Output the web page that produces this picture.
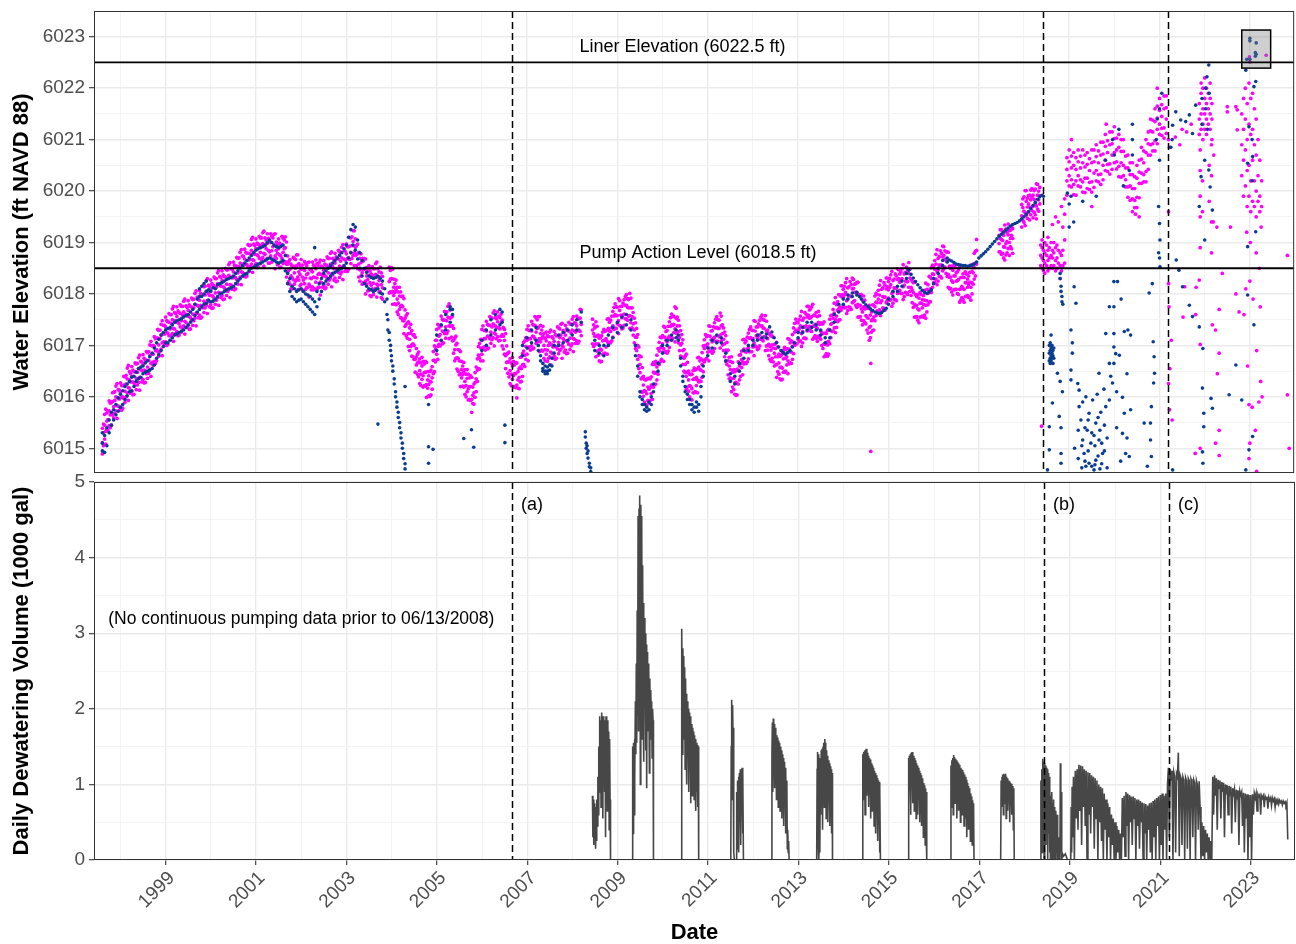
<!DOCTYPE html>
<html><head><meta charset="utf-8">
<script src="https://cdn.jsdelivr.net/npm/chart.js@4.4.1/dist/chart.umd.min.js"></script>
<style>
html,body{margin:0;padding:0;background:#fff;}
#wrap{position:relative;width:1296px;height:944px;overflow:hidden;}
canvas{position:absolute;left:0;}
</style></head><body>
<div id="wrap">
<canvas id="topChart" width="1296" height="476" style="top:0px"></canvas>
<canvas id="bottomChart" width="1296" height="478" style="top:466px"></canvas>
</div>
<script>
// ---------- axis definitions ----------
const yearTicks = [1998,1999,2000,2001,2002,2003,2004,2005,2006,2007,2008,2009,2010,2011,2012,2013,2014,2015,2016,2017,2018,2019,2020,2021,2022,2023];
const elevTicks = [6015,6015.5,6016,6016.5,6017,6017.5,6018,6018.5,6019,6019.5,6020,6020.5,6021,6021.5,6022,6022.5,6023];
const volumeTicks = [0,0.5,1,1.5,2,2.5,3,3.5,4,4.5,5];
const dateRange = [1997.415, 2023.98];
const elevRange = [6014.52, 6023.5];
const volumeRange = [0, 5];

// ---------- reference lines and notes ----------
const levelLines = [6022.5, 6018.5];
const levelNotes = [
  {text: 'Liner Elevation (6022.5 ft)', x: 2008.16, y: 6022.8},
  {text: 'Pump Action Level (6018.5 ft)', x: 2008.16, y: 6018.79}
];
const phaseDates = [2006.66, 2018.42, 2021.19];
const phaseLabels = ['(a)', '(b)', '(c)'];
const phaseLabelLevel = 4.7;
const noDataNote = {text: '(No continuous pumping data prior to 06/13/2008)', x: 2002.0, y: 3.19};
const highlightBoxX = [2022.82, 2023.46];
const highlightBoxY = [6022.39, 6023.13];

// ---------- water elevation, magenta series: [date, readings...] ----------
const magenta1997to2003 = [
[1997.60,6015.39,6015.11,6014.89],[1997.65,6015.45,6015.66,6015.18],[1997.70,6015.37,6015.69,6015.53],[1997.75,6015.92,6015.44,6015.73],
[1997.80,6015.45,6015.89,6015.67],[1997.85,6016.09,6015.81,6015.59],[1997.90,6016.00,6016.21,6015.73],[1997.95,6015.82,6016.14,6015.98],
[1998.00,6016.27,6015.79,6016.08],[1998.05,6015.78,6016.22,6016.00],[1998.10,6016.39,6016.11,6015.89],[1998.15,6016.35,6016.56,6016.08],
[1998.20,6016.17,6016.49,6016.33],[1998.25,6016.59,6016.11,6016.40],[1998.30,6016.05,6016.49,6016.27],[1998.35,6016.64,6016.36,6016.14],
[1998.40,6016.55,6016.76,6016.28],[1998.45,6016.37,6016.69,6016.53],[1998.50,6016.82,6016.34,6016.63],[1998.55,6016.28,6016.72,6016.50],
[1998.60,6016.86,6016.58,6016.36],[1998.65,6016.80,6017.01,6016.53],[1998.70,6016.67,6016.99,6016.83],[1998.75,6017.17,6016.69,6016.98],
[1998.80,6016.70,6017.14,6016.92],[1998.85,6017.29,6017.01,6016.79],[1998.90,6017.20,6017.41,6016.93],[1998.95,6017.07,6017.39,6017.23],
[1999.00,6017.55,6017.07,6017.36],[1999.05,6017.02,6017.46,6017.24],[1999.10,6017.60,6017.32,6017.10],[1999.15,6017.50,6017.71,6017.23],
[1999.20,6017.32,6017.64,6017.48],[1999.25,6017.75,6017.27,6017.56],[1999.30,6017.20,6017.64,6017.42],[1999.35,6017.76,6017.48,6017.26],
[1999.40,6017.65,6017.86,6017.38],[1999.45,6017.45,6017.77,6017.61],[1999.50,6017.87,6017.39,6017.68],[1999.55,6017.32,6017.76,6017.54],
[1999.60,6017.89,6017.61,6017.39],[1999.65,6017.80,6018.01,6017.53],[1999.70,6017.62,6017.94,6017.78],[1999.75,6018.07,6017.59,6017.88],
[1999.80,6017.55,6017.99,6017.77],[1999.85,6018.14,6017.86,6017.64],[1999.90,6018.05,6018.26,6017.78],[1999.95,6017.85,6018.17,6018.01],
[2000.00,6018.27,6017.79,6018.08],[2000.05,6017.73,6018.17,6017.95],[2000.10,6018.30,6018.02,6017.80],[2000.15,6018.20,6018.41,6017.93],
[2000.20,6018.02,6018.34,6018.18],[2000.25,6018.45,6017.97,6018.26],[2000.30,6017.90,6018.34,6018.12],[2000.35,6018.47,6018.19,6017.97],
[2000.40,6018.36,6018.57,6018.09],[2000.45,6018.17,6018.49,6018.33],[2000.50,6018.62,6018.14,6018.43],[2000.55,6018.10,6018.54,6018.32],
[2000.60,6018.69,6018.41,6018.19],[2000.65,6018.60,6018.81,6018.33],[2000.70,6018.42,6018.74,6018.58],[2000.75,6018.87,6018.39,6018.68],
[2000.80,6018.35,6018.79,6018.57],[2000.85,6018.94,6018.66,6018.44],[2000.90,6018.85,6019.06,6018.58],[2000.95,6018.65,6018.97,6018.81],
[2001.00,6019.07,6018.59,6018.88],[2001.05,6018.52,6018.96,6018.74],[2001.10,6019.09,6018.81,6018.59],[2001.15,6018.98,6019.19,6018.71],
[2001.20,6018.77,6019.09,6018.93],[2001.25,6019.17,6018.69,6018.98],[2001.30,6018.60,6019.04,6018.82],[2001.35,6019.12,6018.84,6018.62],
[2001.40,6018.95,6019.16,6018.68],[2001.45,6018.69,6019.01,6018.85],[2001.50,6019.07,6018.59,6018.88],[2001.55,6018.52,6018.96,6018.74],
[2001.60,6019.09,6018.81,6018.59],[2001.65,6018.90,6019.11,6018.63],[2001.70,6018.42,6018.74,6018.58],[2001.75,6018.67,6018.19,6018.48],
[2001.80,6018.10,6018.54,6018.32],[2001.85,6018.69,6018.41,6018.19],[2001.90,6018.55,6018.76,6018.28],[2001.95,6018.27,6018.59,6018.43],
[2002.00,6018.67,6018.19,6018.48],[2002.05,6018.05,6018.49,6018.27],[2002.10,6018.59,6018.31,6018.09],[2002.15,6018.40,6018.61,6018.13],
[2002.20,6018.15,6018.47,6018.31],[2002.25,6018.62,6018.14,6018.43],[2002.30,6018.10,6018.54,6018.32],[2002.35,6018.59,6018.31,6018.09],
[2002.40,6018.40,6018.61,6018.13],[2002.45,6018.22,6018.54,6018.38],[2002.50,6018.65,6018.17,6018.46],[2002.55,6018.12,6018.56,6018.34],
[2002.60,6018.69,6018.41,6018.19],[2002.65,6018.58,6018.79,6018.31],[2002.70,6018.37,6018.69,6018.53],[2002.75,6018.79,6018.31,6018.60],
[2002.80,6018.25,6018.69,6018.47],[2002.85,6018.82,6018.54,6018.32],[2002.90,6018.70,6018.91,6018.43],[2002.95,6018.52,6018.84,6018.68],
[2003.00,6018.97,6018.49,6018.78],[2003.05,6018.48,6018.92,6018.70],[2003.10,6019.09,6018.81,6018.59],[2003.15,6019.02,6019.23,6018.75],
[2003.20,6018.75,6019.07,6018.91],[2003.25,6018.97,6018.49,6018.78],[2003.30,6018.25,6018.69,6018.47],[2003.35,6018.69,6018.41,6018.19],
[2003.40,6018.48,6018.69,6018.21],[2003.45,6018.19,6018.51,6018.35],[2003.50,6018.55,6018.07,6018.36],[2003.55,6017.95,6018.39,6018.17],
[2003.60,6018.49,6018.21,6017.99],[2003.65,6018.38,6018.59,6018.11],[2003.70,6018.17,6018.49,6018.33],[2003.75,6018.52,6018.04,6018.33],
[2003.80,6017.90,6018.34,6018.12]
];
const magentaMid1997to2003 = [
[1997.625,6015.05,6015.30,6015.47],[1997.675,6015.76,6015.33,6015.08],[1997.725,6015.56,6015.73,6015.34],[1997.775,6015.88,6015.40,6015.65],
[1997.825,6015.65,6016.08,6015.91],[1997.875,6015.68,6015.93,6016.10],[1997.925,6016.26,6015.83,6015.58],[1997.975,6015.96,6016.13,6015.74],
[1998.025,6016.22,6015.74,6015.99],[1998.075,6015.97,6016.40,6016.23],[1998.125,6016.00,6016.25,6016.42],[1998.175,6016.61,6016.18,6015.93],
[1998.225,6016.29,6016.46,6016.07],[1998.275,6016.52,6016.04,6016.29],[1998.325,6016.23,6016.66,6016.49],[1998.375,6016.23,6016.48,6016.65],
[1998.425,6016.81,6016.38,6016.13],[1998.475,6016.51,6016.68,6016.29],[1998.525,6016.75,6016.27,6016.52],[1998.575,6016.45,6016.88,6016.71],
[1998.625,6016.46,6016.71,6016.88],[1998.675,6017.08,6016.65,6016.40],[1998.725,6016.83,6017.00,6016.61],[1998.775,6017.13,6016.65,6016.90],
[1998.825,6016.88,6017.31,6017.14],[1998.875,6016.88,6017.13,6017.30],[1998.925,6017.48,6017.05,6016.80],[1998.975,6017.22,6017.39,6017.00],
[1999.025,6017.48,6017.00,6017.25],[1999.075,6017.19,6017.62,6017.45],[1999.125,6017.18,6017.43,6017.60],[1999.175,6017.76,6017.33,6017.08],
[1999.225,6017.45,6017.62,6017.23],[1999.275,6017.67,6017.19,6017.44],[1999.325,6017.36,6017.79,6017.62],[1999.375,6017.34,6017.59,6017.76],
[1999.425,6017.90,6017.47,6017.22],[1999.475,6017.57,6017.74,6017.35],[1999.525,6017.79,6017.31,6017.56],[1999.575,6017.49,6017.92,6017.75],
[1999.625,6017.48,6017.73,6017.90],[1999.675,6018.06,6017.63,6017.38],[1999.725,6017.76,6017.93,6017.54],[1999.775,6018.01,6017.53,6017.78],
[1999.825,6017.73,6018.16,6017.99],[1999.875,6017.73,6017.98,6018.15],[1999.925,6018.30,6017.87,6017.62],[1999.975,6017.97,6018.14,6017.75],
[2000.025,6018.20,6017.72,6017.97],[2000.075,6017.90,6018.33,6018.16],[2000.125,6017.88,6018.13,6018.30],[2000.175,6018.46,6018.03,6017.78],
[2000.225,6018.15,6018.32,6017.93],[2000.275,6018.37,6017.89,6018.14],[2000.325,6018.07,6018.50,6018.33],[2000.375,6018.05,6018.30,6018.47],
[2000.425,6018.61,6018.18,6017.93],[2000.475,6018.31,6018.48,6018.09],[2000.525,6018.56,6018.08,6018.33],[2000.575,6018.28,6018.71,6018.54],
[2000.625,6018.28,6018.53,6018.70],[2000.675,6018.86,6018.43,6018.18],[2000.725,6018.56,6018.73,6018.34],[2000.775,6018.81,6018.33,6018.58],
[2000.825,6018.53,6018.96,6018.79],[2000.875,6018.53,6018.78,6018.95],[2000.925,6019.10,6018.67,6018.42],[2000.975,6018.77,6018.94,6018.55],
[2001.025,6018.99,6018.51,6018.76],[2001.075,6018.69,6019.12,6018.95],[2001.125,6018.67,6018.92,6019.09],[2001.175,6019.22,6018.79,6018.54],
[2001.225,6018.88,6019.05,6018.66],[2001.275,6019.08,6018.60,6018.85],[2001.325,6018.74,6019.17,6019.00],[2001.375,6018.67,6018.92,6019.09],
[2001.425,6019.17,6018.74,6018.49],[2001.475,6018.79,6018.96,6018.57],[2001.525,6018.99,6018.51,6018.76],[2001.575,6018.69,6019.12,6018.95],
[2001.625,6018.63,6018.88,6019.05],[2001.675,6019.01,6018.58,6018.33],[2001.725,6018.46,6018.63,6018.24],[2001.775,6018.58,6018.10,6018.35],
[2001.825,6018.28,6018.71,6018.54],[2001.875,6018.25,6018.50,6018.67],[2001.925,6018.76,6018.33,6018.08],[2001.975,6018.38,6018.55,6018.16],
[2002.025,6018.56,6018.08,6018.33],[2002.075,6018.20,6018.63,6018.46],[2002.125,6018.13,6018.38,6018.55],[2002.175,6018.62,6018.19,6017.94],
[2002.225,6018.30,6018.47,6018.08],[2002.275,6018.56,6018.08,6018.33],[2002.325,6018.23,6018.66,6018.49],[2002.375,6018.13,6018.38,6018.55],
[2002.425,6018.66,6018.23,6017.98],[2002.475,6018.35,6018.52,6018.13],[2002.525,6018.58,6018.10,6018.35],[2002.575,6018.29,6018.72,6018.55],
[2002.625,6018.27,6018.52,6018.69],[2002.675,6018.82,6018.39,6018.14],[2002.725,6018.49,6018.66,6018.27],[2002.775,6018.72,6018.24,6018.49],
[2002.825,6018.42,6018.85,6018.68],[2002.875,6018.39,6018.64,6018.81],[2002.925,6018.96,6018.53,6018.28],[2002.975,6018.66,6018.83,6018.44],
[2003.025,6018.92,6018.44,6018.69],[2003.075,6018.67,6019.10,6018.93],[2003.125,6018.69,6018.94,6019.11],[2003.175,6019.23,6018.80,6018.55],
[2003.225,6018.77,6018.94,6018.55],[2003.275,6018.81,6018.33,6018.58],[2003.325,6018.35,6018.78,6018.61],[2003.375,6018.22,6018.47,6018.64],
[2003.425,6018.68,6018.25,6018.00],[2003.475,6018.28,6018.45,6018.06],[2003.525,6018.45,6017.97,6018.22],[2003.575,6018.10,6018.53,6018.36],
[2003.625,6018.07,6018.32,6018.49],[2003.675,6018.62,6018.19,6017.94],[2003.725,6018.26,6018.43,6018.04],[2003.775,6018.41,6017.93,6018.18]
];
const magenta2004to2008 = [
[2003.95,6018.52,6018.24,6018.02],[2004.00,6018.30,6018.51,6018.03],[2004.05,6017.97,6018.29,6018.13],[2004.10,6018.27,6017.79,6018.08],
[2004.15,6017.60,6018.04,6017.82],[2004.20,6018.04,6017.76,6017.54],[2004.25,6017.75,6017.96,6017.48],[2004.30,6017.37,6017.69,6017.53],
[2004.35,6017.62,6017.14,6017.43],[2004.40,6016.90,6017.34,6017.12],[2004.45,6017.29,6017.01,6016.79],[2004.50,6017.00,6017.21,6016.73],
[2004.55,6016.62,6016.94,6016.78],[2004.60,6016.87,6016.39,6016.68],[2004.65,6016.22,6016.66,6016.44],[2004.70,6016.69,6016.41,6016.19],
[2004.75,6016.48,6016.69,6016.21],[2004.80,6016.17,6016.49,6016.33],[2004.85,6016.49,6016.01,6016.30],[2004.90,6016.15,6016.59,6016.37],
[2004.95,6016.99,6016.71,6016.49],[2005.00,6017.10,6017.31,6016.83],[2005.05,6017.02,6017.34,6017.18],[2005.10,6017.57,6017.09,6017.38],
[2005.15,6017.05,6017.49,6017.27],[2005.20,6017.64,6017.36,6017.14],[2005.25,6017.55,6017.76,6017.28],[2005.30,6017.37,6017.69,6017.53],
[2005.35,6017.57,6017.09,6017.38],[2005.40,6016.70,6017.14,6016.92],[2005.45,6017.04,6016.76,6016.54],[2005.50,6016.70,6016.91,6016.43],
[2005.55,6016.37,6016.69,6016.53],[2005.60,6016.67,6016.19,6016.48],[2005.65,6016.00,6016.44,6016.22],[2005.70,6016.44,6016.16,6015.94],
[2005.75,6016.20,6016.41,6015.93],[2005.80,6015.87,6016.19,6016.03],[2005.85,6016.47,6015.99,6016.28],[2005.90,6016.30,6016.74,6016.52],
[2005.95,6017.04,6016.76,6016.54],[2006.00,6017.10,6017.31,6016.83],[2006.05,6016.97,6017.29,6017.13],[2006.10,6017.47,6016.99,6017.28],
[2006.15,6016.95,6017.39,6017.17],[2006.20,6017.54,6017.26,6017.04],[2006.25,6017.42,6017.63,6017.15],[2006.30,6017.22,6017.54,6017.38],
[2006.35,6017.65,6017.17,6017.46],[2006.40,6017.10,6017.54,6017.32],[2006.45,6017.49,6017.21,6016.99],[2006.50,6017.10,6017.31,6016.83],
[2006.55,6016.67,6016.99,6016.83],[2006.60,6016.87,6016.39,6016.68],[2006.65,6016.22,6016.66,6016.44],[2006.70,6016.69,6016.41,6016.19],
[2006.75,6016.45,6016.66,6016.18],[2006.80,6016.17,6016.49,6016.33],[2006.85,6016.77,6016.29,6016.58],[2006.90,6016.40,6016.84,6016.62],
[2006.95,6017.09,6016.81,6016.59],[2007.00,6017.10,6017.31,6016.83],[2007.05,6016.97,6017.29,6017.13],[2007.10,6017.47,6016.99,6017.28],
[2007.15,6016.95,6017.39,6017.17],[2007.20,6017.54,6017.26,6017.04],[2007.25,6017.35,6017.56,6017.08],[2007.30,6017.07,6017.39,6017.23],
[2007.35,6017.37,6016.89,6017.18],[2007.40,6016.70,6017.14,6016.92],[2007.45,6017.19,6016.91,6016.69],[2007.50,6017.05,6017.26,6016.78],
[2007.55,6016.85,6017.17,6017.01],[2007.60,6017.27,6016.79,6017.08],[2007.65,6016.75,6017.19,6016.97],[2007.70,6017.34,6017.06,6016.84],
[2007.75,6017.20,6017.41,6016.93],[2007.80,6016.97,6017.29,6017.13],[2007.85,6017.39,6016.91,6017.20],[2007.90,6016.85,6017.29,6017.07],
[2007.95,6017.42,6017.14,6016.92],[2008.00,6017.30,6017.51,6017.03],[2008.05,6017.12,6017.44,6017.28],[2008.10,6017.57,6017.09,6017.38],
[2008.15,6017.08,6017.52,6017.30],[2008.20,6017.69,6017.41,6017.19]
];
const magentaMid2004to2008 = [
[2003.975,6018.04,6018.29,6018.46],[2004.025,6018.48,6018.05,6017.80],[2004.075,6018.03,6018.20,6017.81],[2004.125,6018.13,6017.65,6017.90],
[2004.175,6017.70,6018.13,6017.96],[2004.225,6017.53,6017.78,6017.95],[2004.275,6017.91,6017.48,6017.23],[2004.325,6017.41,6017.58,6017.19],
[2004.375,6017.46,6016.98,6017.23],[2004.425,6016.98,6017.41,6017.24],[2004.475,6016.78,6017.03,6017.20],[2004.525,6017.16,6016.73,6016.48],
[2004.575,6016.66,6016.83,6016.44],[2004.625,6016.74,6016.26,6016.51],[2004.675,6016.34,6016.77,6016.60],[2004.725,6016.22,6016.47,6016.64],
[2004.775,6016.67,6016.24,6015.99],[2004.825,6016.24,6016.41,6016.02],[2004.875,6016.52,6016.04,6016.29],[2004.925,6016.45,6016.88,6016.71],
[2004.975,6016.68,6016.93,6017.10],[2005.025,6017.41,6016.98,6016.73],[2005.075,6017.21,6017.38,6016.99],[2005.125,6017.51,6017.03,6017.28],
[2005.175,6017.23,6017.66,6017.49],[2005.225,6017.23,6017.48,6017.65],[2005.275,6017.81,6017.38,6017.13],[2005.325,6017.38,6017.55,6017.16],
[2005.375,6017.33,6016.85,6017.10],[2005.425,6016.75,6017.18,6017.01],[2005.475,6016.50,6016.75,6016.92],[2005.525,6016.88,6016.45,6016.20],
[2005.575,6016.43,6016.60,6016.21],[2005.625,6016.53,6016.05,6016.30],[2005.675,6016.10,6016.53,6016.36],[2005.725,6015.95,6016.20,6016.37],
[2005.775,6016.38,6015.95,6015.70],[2005.825,6016.08,6016.25,6015.86],[2005.875,6016.58,6016.10,6016.35],[2005.925,6016.55,6016.98,6016.81],
[2005.975,6016.70,6016.95,6017.12],[2006.025,6017.38,6016.95,6016.70],[2006.075,6017.13,6017.30,6016.91],[2006.125,6017.41,6016.93,6017.18],
[2006.175,6017.13,6017.56,6017.39],[2006.225,6017.11,6017.36,6017.53],[2006.275,6017.67,6017.24,6016.99],[2006.325,6017.35,6017.52,6017.13],
[2006.375,6017.57,6017.09,6017.34],[2006.425,6017.18,6017.61,6017.44],[2006.475,6016.93,6017.18,6017.35],[2006.525,6017.23,6016.80,6016.55],
[2006.575,6016.68,6016.85,6016.46],[2006.625,6016.74,6016.26,6016.51],[2006.675,6016.34,6016.77,6016.60],[2006.725,6016.20,6016.45,6016.62],
[2006.775,6016.66,6016.23,6015.98],[2006.825,6016.38,6016.55,6016.16],[2006.875,6016.78,6016.30,6016.55],[2006.925,6016.63,6017.06,6016.89],
[2006.975,6016.73,6016.98,6017.15],[2007.025,6017.38,6016.95,6016.70],[2007.075,6017.13,6017.30,6016.91],[2007.125,6017.41,6016.93,6017.18],
[2007.175,6017.13,6017.56,6017.39],[2007.225,6017.08,6017.33,6017.50],[2007.275,6017.56,6017.13,6016.88],[2007.325,6017.13,6017.30,6016.91],
[2007.375,6017.23,6016.75,6017.00],[2007.425,6016.83,6017.26,6017.09],[2007.475,6016.75,6017.00,6017.17],[2007.525,6017.30,6016.87,6016.62],
[2007.575,6016.97,6017.14,6016.75],[2007.625,6017.21,6016.73,6016.98],[2007.675,6016.93,6017.36,6017.19],[2007.725,6016.90,6017.15,6017.32],
[2007.775,6017.43,6017.00,6016.75],[2007.825,6017.09,6017.26,6016.87],[2007.875,6017.32,6016.84,6017.09],[2007.925,6017.02,6017.45,6017.28],
[2007.975,6016.99,6017.24,6017.41],[2008.025,6017.56,6017.13,6016.88],[2008.075,6017.26,6017.43,6017.04],[2008.125,6017.52,6017.04,6017.29],
[2008.175,6017.27,6017.70,6017.53]
];
const magenta2008to2013 = [
[2008.45,6017.30,6017.51,6017.03],[2008.50,6017.02,6017.34,6017.18],[2008.55,6017.37,6016.89,6017.18],[2008.60,6016.70,6017.14,6016.92],
[2008.65,6017.19,6016.91,6016.69],[2008.70,6017.10,6017.31,6016.83],[2008.75,6016.97,6017.29,6017.13],[2008.80,6017.52,6017.04,6017.33],
[2008.85,6017.05,6017.49,6017.27],[2008.90,6017.66,6017.38,6017.16],[2008.95,6017.60,6017.81,6017.33],[2009.00,6017.42,6017.74,6017.58],
[2009.05,6017.87,6017.39,6017.68],[2009.10,6017.32,6017.76,6017.54],[2009.15,6017.89,6017.61,6017.39],[2009.20,6017.78,6017.99,6017.51],
[2009.25,6017.57,6017.89,6017.73],[2009.30,6017.92,6017.44,6017.73],[2009.35,6017.20,6017.64,6017.42],[2009.40,6017.44,6017.16,6016.94],
[2009.45,6017.00,6017.21,6016.73],[2009.50,6016.47,6016.79,6016.63],[2009.55,6016.57,6016.09,6016.38],[2009.60,6015.90,6016.34,6016.12],
[2009.65,6016.34,6016.06,6015.84],[2009.70,6016.15,6016.36,6015.88],[2009.75,6016.07,6016.39,6016.23],[2009.80,6016.67,6016.19,6016.48],
[2009.85,6016.25,6016.69,6016.47],[2009.90,6016.94,6016.66,6016.44],[2009.95,6016.95,6017.16,6016.68],[2010.00,6016.87,6017.19,6017.03],
[2010.05,6017.35,6016.87,6017.16],[2010.10,6016.85,6017.29,6017.07],[2010.15,6017.46,6017.18,6016.96],[2010.20,6017.40,6017.61,6017.13],
[2010.25,6017.25,6017.57,6017.41],[2010.30,6017.72,6017.24,6017.53],[2010.35,6017.05,6017.49,6017.27],[2010.40,6017.29,6017.01,6016.79],
[2010.45,6016.90,6017.11,6016.63],[2010.50,6016.47,6016.79,6016.63],[2010.55,6016.67,6016.19,6016.48],[2010.60,6016.00,6016.44,6016.22],
[2010.65,6016.44,6016.16,6015.94],[2010.70,6016.35,6016.56,6016.08],[2010.75,6016.22,6016.54,6016.38],[2010.80,6016.77,6016.29,6016.58],
[2010.85,6016.30,6016.74,6016.52],[2010.90,6016.99,6016.71,6016.49],[2010.95,6017.00,6017.21,6016.73],[2011.00,6016.87,6017.19,6017.03],
[2011.05,6017.37,6016.89,6017.18],[2011.10,6016.85,6017.29,6017.07],[2011.15,6017.44,6017.16,6016.94],[2011.20,6017.35,6017.56,6017.08],
[2011.25,6017.17,6017.49,6017.33],[2011.30,6017.57,6017.09,6017.38],[2011.35,6016.90,6017.34,6017.12],[2011.40,6017.19,6016.91,6016.69],
[2011.45,6016.70,6016.91,6016.43],[2011.50,6016.37,6016.69,6016.53],[2011.55,6016.67,6016.19,6016.48],[2011.60,6016.05,6016.49,6016.27],
[2011.65,6016.54,6016.26,6016.04],[2011.70,6016.60,6016.81,6016.33],[2011.75,6016.57,6016.89,6016.73],[2011.80,6017.12,6016.64,6016.93],
[2011.85,6016.65,6017.09,6016.87],[2011.90,6017.24,6016.96,6016.74],[2011.95,6017.15,6017.36,6016.88],[2012.00,6016.97,6017.29,6017.13],
[2012.05,6017.47,6016.99,6017.28],[2012.10,6016.92,6017.36,6017.14],[2012.15,6017.49,6017.21,6016.99],[2012.20,6017.38,6017.59,6017.11],
[2012.25,6017.17,6017.49,6017.33],[2012.30,6017.47,6016.99,6017.28],[2012.35,6016.80,6017.24,6017.02],[2012.40,6017.19,6016.91,6016.69],
[2012.45,6016.95,6017.16,6016.68],[2012.50,6016.62,6016.94,6016.78],[2012.55,6016.97,6016.49,6016.78],[2012.60,6016.35,6016.79,6016.57],
[2012.65,6016.84,6016.56,6016.34],[2012.70,6016.75,6016.96,6016.48],[2012.75,6016.62,6016.94,6016.78],[2012.80,6017.12,6016.64,6016.93],
[2012.85,6016.65,6017.09,6016.87],[2012.90,6017.34,6017.06,6016.84],[2012.95,6017.30,6017.51,6017.03]
];
const magentaMid2008to2013 = [
[2008.475,6016.98,6017.23,6017.40],[2008.525,6017.46,6017.03,6016.78],[2008.575,6017.03,6017.20,6016.81],[2008.625,6017.16,6016.68,6016.93],
[2008.675,6016.83,6017.26,6017.09],[2008.725,6016.85,6017.10,6017.27],[2008.775,6017.51,6017.08,6016.83],[2008.825,6017.28,6017.45,6017.06],
[2008.875,6017.57,6017.09,6017.34],[2008.925,6017.31,6017.74,6017.57],[2008.975,6017.33,6017.58,6017.75],[2009.025,6017.91,6017.48,6017.23],
[2009.075,6017.59,6017.76,6017.37],[2009.125,6017.82,6017.34,6017.59],[2009.175,6017.52,6017.95,6017.78],[2009.225,6017.49,6017.74,6017.91],
[2009.275,6018.01,6017.58,6017.33],[2009.325,6017.56,6017.73,6017.34],[2009.375,6017.53,6017.05,6017.30],[2009.425,6016.90,6017.33,6017.16],
[2009.475,6016.55,6016.80,6016.97],[2009.525,6016.78,6016.35,6016.10],[2009.575,6016.23,6016.40,6016.01],[2009.625,6016.33,6015.85,6016.10],
[2009.675,6015.93,6016.36,6016.19],[2009.725,6015.93,6016.18,6016.35],[2009.775,6016.63,6016.20,6015.95],[2009.825,6016.46,6016.63,6016.24],
[2009.875,6016.81,6016.33,6016.58],[2009.925,6016.63,6017.06,6016.89],[2009.975,6016.73,6016.98,6017.15],[2010.025,6017.37,6016.94,6016.69],
[2010.075,6017.10,6017.27,6016.88],[2010.125,6017.37,6016.89,6017.14],[2010.175,6017.11,6017.54,6017.37],[2010.225,6017.14,6017.39,6017.56],
[2010.275,6017.75,6017.32,6017.07],[2010.325,6017.38,6017.55,6017.16],[2010.375,6017.38,6016.90,6017.15],[2010.425,6016.78,6017.21,6017.04],
[2010.475,6016.50,6016.75,6016.92],[2010.525,6016.83,6016.40,6016.15],[2010.575,6016.33,6016.50,6016.11],[2010.625,6016.43,6015.95,6016.20],
[2010.675,6016.08,6016.51,6016.34],[2010.725,6016.10,6016.35,6016.52],[2010.775,6016.76,6016.33,6016.08],[2010.825,6016.53,6016.70,6016.31],
[2010.875,6016.86,6016.38,6016.63],[2010.925,6016.68,6017.11,6016.94],[2010.975,6016.75,6017.00,6017.17],[2011.025,6017.38,6016.95,6016.70],
[2011.075,6017.11,6017.28,6016.89],[2011.125,6017.36,6016.88,6017.13],[2011.175,6017.08,6017.51,6017.34],[2011.225,6017.08,6017.33,6017.50],
[2011.275,6017.63,6017.20,6016.95],[2011.325,6017.23,6017.40,6017.01],[2011.375,6017.26,6016.78,6017.03],[2011.425,6016.63,6017.06,6016.89],
[2011.475,6016.35,6016.60,6016.77],[2011.525,6016.78,6016.35,6016.10],[2011.575,6016.36,6016.53,6016.14],[2011.625,6016.51,6016.03,6016.28],
[2011.675,6016.25,6016.68,6016.51],[2011.725,6016.40,6016.65,6016.82],[2011.775,6017.11,6016.68,6016.43],[2011.825,6016.88,6017.05,6016.66],
[2011.875,6017.16,6016.68,6016.93],[2011.925,6016.88,6017.31,6017.14],[2011.975,6016.88,6017.13,6017.30],[2012.025,6017.48,6017.05,6016.80],
[2012.075,6017.19,6017.36,6016.97],[2012.125,6017.42,6016.94,6017.19],[2012.175,6017.12,6017.55,6017.38],[2012.225,6017.09,6017.34,6017.51],
[2012.275,6017.58,6017.15,6016.90],[2012.325,6017.13,6017.30,6016.91],[2012.375,6017.21,6016.73,6016.98],[2012.425,6016.75,6017.18,6017.01],
[2012.475,6016.60,6016.85,6017.02],[2012.525,6017.06,6016.63,6016.38],[2012.575,6016.66,6016.83,6016.44],[2012.625,6016.81,6016.33,6016.58],
[2012.675,6016.48,6016.91,6016.74],[2012.725,6016.50,6016.75,6016.92],[2012.775,6017.13,6016.70,6016.45],[2012.825,6016.88,6017.05,6016.66],
[2012.875,6017.21,6016.73,6016.98],[2012.925,6017.00,6017.43,6017.26],[2012.975,6017.03,6017.28,6017.45]
];
const magenta2013to2018 = [
[2013.00,6017.12,6017.44,6017.28],[2013.05,6017.57,6017.09,6017.38],[2013.10,6017.05,6017.49,6017.27],[2013.15,6017.64,6017.36,6017.14],
[2013.20,6017.55,6017.76,6017.28],[2013.25,6017.37,6017.69,6017.53],[2013.30,6017.75,6017.27,6017.56],[2013.35,6017.15,6017.59,6017.37],
[2013.40,6017.64,6017.36,6017.14],[2013.45,6017.45,6017.66,6017.18],[2013.50,6017.12,6017.44,6017.28],[2013.55,6017.42,6016.94,6017.23],
[2013.60,6016.80,6017.24,6017.02],[2013.65,6017.29,6017.01,6016.79],[2013.70,6017.30,6017.51,6017.03],[2013.75,6017.27,6017.59,6017.43],
[2013.80,6017.82,6017.34,6017.63],[2013.85,6017.35,6017.79,6017.57],[2013.90,6017.99,6017.71,6017.49],[2013.95,6017.95,6018.16,6017.68],
[2014.00,6017.77,6018.09,6017.93],[2014.05,6018.22,6017.74,6018.03],[2014.10,6017.68,6018.12,6017.90],[2014.15,6018.24,6017.96,6017.74],
[2014.20,6018.10,6018.31,6017.83],[2014.25,6017.87,6018.19,6018.03],[2014.30,6018.22,6017.74,6018.03],[2014.35,6017.55,6017.99,6017.77],
[2014.40,6017.99,6017.71,6017.49],[2014.45,6017.75,6017.96,6017.48],[2014.50,6017.42,6017.74,6017.58],[2014.55,6017.72,6017.24,6017.53],
[2014.60,6017.15,6017.59,6017.37],[2014.61,6016.65,6014.94],[2014.65,6017.79,6017.51,6017.29],[2014.70,6017.75,6017.96,6017.48],
[2014.75,6017.67,6017.99,6017.83],[2014.80,6018.17,6017.69,6017.98],[2014.85,6017.65,6018.09,6017.87],[2014.90,6018.22,6017.94,6017.72],
[2014.95,6018.10,6018.31,6017.83],[2015.00,6017.92,6018.24,6018.08],[2015.05,6018.37,6017.89,6018.18],[2015.10,6017.82,6018.26,6018.04],
[2015.15,6018.39,6018.11,6017.89],[2015.20,6018.28,6018.49,6018.01],[2015.25,6018.07,6018.39,6018.23],[2015.30,6018.49,6018.01,6018.30],
[2015.35,6017.95,6018.39,6018.17],[2015.40,6018.52,6018.24,6018.02],[2015.45,6018.40,6018.61,6018.13],[2015.50,6017.97,6018.29,6018.13],
[2015.55,6018.22,6017.74,6018.03],[2015.60,6017.55,6017.99,6017.77],[2015.65,6017.99,6017.71,6017.49],[2015.70,6017.82,6018.03,6017.55],
[2015.75,6017.57,6017.89,6017.73],[2015.80,6018.07,6017.59,6017.88],[2015.85,6017.65,6018.09,6017.87],[2015.90,6018.34,6018.06,6017.84],
[2015.95,6018.30,6018.51,6018.03],[2016.00,6018.22,6018.54,6018.38],[2016.05,6018.77,6018.29,6018.58],[2016.10,6018.25,6018.69,6018.47],
[2016.15,6018.84,6018.56,6018.34],[2016.20,6018.72,6018.93,6018.45],[2016.25,6018.52,6018.84,6018.68],[2016.30,6018.82,6018.34,6018.63],
[2016.35,6018.10,6018.54,6018.32],[2016.40,6018.54,6018.26,6018.04],[2016.45,6018.35,6018.56,6018.08],[2016.50,6018.09,6018.41,6018.25],
[2016.55,6018.47,6017.99,6018.28],[2016.60,6017.88,6018.32,6018.10],[2016.65,6018.39,6018.11,6017.89],[2016.70,6018.22,6018.43,6017.95],
[2016.75,6017.97,6018.29,6018.13],[2016.80,6018.42,6017.94,6018.23],[2016.85,6018.00,6018.44,6018.22],[2016.90,6018.79,6018.51,6018.29],
[2016.95,6018.85,6019.06,6018.58],[2017.45,6018.82,6019.14,6018.98],[2017.50,6019.25,6018.77,6019.06],[2017.55,6018.70,6019.14,6018.92],
[2017.60,6019.26,6018.98,6018.76],[2017.65,6019.15,6019.36,6018.88],[2017.70,6018.92,6019.24,6019.08],[2017.75,6019.27,6018.79,6019.08],
[2017.95,6019.30,6019.74,6019.52],[2018.00,6019.89,6019.61,6019.39],[2018.05,6019.80,6020.01,6019.53],[2018.10,6019.59,6019.91,6019.75],
[2018.15,6020.02,6019.54,6019.83],[2018.20,6019.48,6019.92,6019.70],[2018.25,6020.04,6019.76,6019.54],[2018.30,6019.92,6020.13,6019.65],
[2018.35,6019.75,6020.07,6019.91]
];
const magentaMid2013to2018 = [
[2013.025,6017.08,6017.33,6017.50],[2013.075,6017.66,6017.23,6016.98],[2013.125,6017.36,6017.53,6017.14],[2013.175,6017.61,6017.13,6017.38],
[2013.225,6017.33,6017.76,6017.59],[2013.275,6017.29,6017.54,6017.71],[2013.325,6017.80,6017.37,6017.12],[2013.375,6017.41,6017.58,6017.19],
[2013.425,6017.56,6017.08,6017.33],[2013.475,6017.15,6017.58,6017.41],[2013.525,6017.00,6017.25,6017.42],[2013.575,6017.46,6017.03,6016.78],
[2013.625,6017.06,6017.23,6016.84],[2013.675,6017.31,6016.83,6017.08],[2013.725,6017.15,6017.58,6017.41],[2013.775,6017.28,6017.53,6017.70],
[2013.825,6017.93,6017.50,6017.25],[2013.875,6017.68,6017.85,6017.46],[2013.925,6017.98,6017.50,6017.75],[2013.975,6017.73,6018.16,6017.99],
[2014.025,6017.73,6017.98,6018.15],[2014.075,6018.30,6017.87,6017.62],[2014.125,6017.97,6018.14,6017.75],[2014.175,6018.18,6017.70,6017.95],
[2014.225,6017.85,6018.28,6018.11],[2014.275,6017.78,6018.03,6018.20],[2014.325,6018.23,6017.80,6017.55],[2014.375,6017.78,6017.95,6017.56],
[2014.425,6017.88,6017.40,6017.65],[2014.475,6017.45,6017.88,6017.71],[2014.525,6017.30,6017.55,6017.72],[2014.575,6017.78,6017.35,6017.10],
[2014.625,6017.48,6017.65,6017.26],[2014.675,6017.78,6017.30,6017.55],[2014.725,6017.58,6018.01,6017.84],[2014.775,6017.65,6017.90,6018.07],
[2014.825,6018.26,6017.83,6017.58],[2014.875,6017.95,6018.12,6017.73],[2014.925,6018.17,6017.69,6017.94],[2014.975,6017.88,6018.31,6018.14],
[2015.025,6017.88,6018.13,6018.30],[2015.075,6018.44,6018.01,6017.76],[2015.125,6018.12,6018.29,6017.90],[2015.175,6018.35,6017.87,6018.12],
[2015.225,6018.04,6018.47,6018.30],[2015.275,6018.01,6018.26,6018.43],[2015.325,6018.57,6018.14,6017.89],[2015.375,6018.25,6018.42,6018.03],
[2015.425,6018.47,6017.99,6018.24],[2015.475,6018.05,6018.48,6018.31],[2015.525,6017.83,6018.08,6018.25],[2015.575,6018.23,6017.80,6017.55],
[2015.625,6017.78,6017.95,6017.56],[2015.675,6017.92,6017.44,6017.69],[2015.725,6017.56,6017.99,6017.82],[2015.775,6017.55,6017.80,6017.97],
[2015.825,6018.21,6017.78,6017.53],[2015.875,6018.01,6018.18,6017.79],[2015.925,6018.33,6017.85,6018.10],[2015.975,6018.13,6018.56,6018.39],
[2016.025,6018.23,6018.48,6018.65],[2016.075,6018.86,6018.43,6018.18],[2016.125,6018.56,6018.73,6018.34],[2016.175,6018.79,6018.31,6018.56],
[2016.225,6018.49,6018.92,6018.75],[2016.275,6018.40,6018.65,6018.82],[2016.325,6018.81,6018.38,6018.13],[2016.375,6018.33,6018.50,6018.11],
[2016.425,6018.46,6017.98,6018.23],[2016.475,6018.09,6018.52,6018.35],[2016.525,6018.01,6018.26,6018.43],[2016.575,6018.52,6018.09,6017.84],
[2016.625,6018.15,6018.32,6017.93],[2016.675,6018.32,6017.84,6018.09],[2016.725,6017.96,6018.39,6018.22],[2016.775,6017.93,6018.18,6018.35],
[2016.825,6018.56,6018.13,6017.88],[2016.875,6018.41,6018.58,6018.19],[2016.925,6018.83,6018.35,6018.60],[2017.475,6018.82,6019.25,6019.08],
[2017.525,6018.79,6019.04,6019.21],[2017.575,6019.34,6018.91,6018.66],[2017.625,6019.02,6019.19,6018.80],[2017.675,6019.23,6018.75,6019.00],
[2017.725,6018.88,6019.31,6019.14],[2017.975,6019.43,6019.68,6019.85],[2018.025,6020.01,6019.58,6019.33],[2018.075,6019.69,6019.86,6019.47],
[2018.125,6019.92,6019.44,6019.69],[2018.175,6019.62,6020.05,6019.88],[2018.225,6019.59,6019.84,6020.01],[2018.275,6020.14,6019.71,6019.46],
[2018.325,6019.83,6020.00,6019.61]
];
const magentaAfter2018 = [
[2018.37,6018.55,6018.75,6018.95],[2018.39,6015.43],[2018.40,6018.50,6018.70,6018.90,6019.05],[2018.43,6018.45,6018.65,6018.85],
[2018.46,6018.40,6018.60,6018.80,6019.00],[2018.50,6018.55,6018.75,6018.95],[2018.53,6018.45,6018.65,6018.85,6019.10],
[2018.56,6018.50,6018.70,6018.90],[2018.60,6018.55,6018.75,6019.00],[2018.63,6018.50,6018.70,6018.85,6019.35],
[2018.66,6018.55,6018.80,6019.00],[2018.70,6018.45,6018.65,6018.90,6019.50],[2018.73,6018.50,6018.70,6018.95],
[2018.76,6018.60,6018.85,6019.40],[2018.80,6018.30,6018.55,6018.80],[2018.83,6018.45,6018.75,6019.70],
[2018.86,6018.55,6018.85,6019.30],[2018.90,6018.60,6019.05,6019.55,6019.85],
[2018.95,6020.65,6020.20,6019.92,6020.42],[2019.00,6020.10,6020.57,6020.80,6020.30],[2019.05,6020.45,6020.08,6020.68,6020.22,6021.00],
[2019.10,6020.75,6020.50,6020.13,6019.93],[2019.15,6020.65,6020.20,6019.92,6020.42],[2019.20,6020.10,6020.57,6020.80,6020.30],
[2019.25,6020.45,6020.08,6020.68,6020.22],[2019.30,6020.80,6020.55,6020.18,6019.98],[2019.35,6020.70,6020.25,6019.97,6020.47],
[2019.40,6020.05,6020.52,6020.75,6020.25],[2019.45,6020.40,6020.03,6020.63,6020.17],[2019.50,6020.80,6020.55,6020.18,6019.98,6019.70],
[2019.55,6020.80,6020.35,6020.07,6020.57],[2019.60,6020.20,6020.67,6020.90,6020.40],[2019.65,6020.55,6020.18,6020.78,6020.32],
[2019.70,6020.95,6020.70,6020.33,6020.13],[2019.75,6020.95,6020.50,6020.22,6020.72],[2019.80,6020.40,6020.87,6021.10,6020.60],
[2019.82,6021.30],[2019.85,6020.75,6020.38,6020.98,6020.52],[2019.90,6021.15,6020.90,6020.53,6020.33],
[2019.95,6021.15,6020.70,6020.42,6020.92],[2020.00,6020.55,6021.02,6021.25,6020.75],[2020.05,6020.80,6020.43,6021.03,6020.57],
[2020.10,6021.10,6020.85,6020.48,6020.28],[2020.15,6021.00,6020.55,6020.27,6020.77],[2020.20,6020.30,6020.77,6021.00,6020.50],
[2020.25,6020.45,6020.08,6020.68,6020.22],[2020.30,6020.70,6020.45,6020.08,6019.88],[2020.35,6020.55,6020.10,6019.82,6020.32],
[2020.40,6019.85,6020.32,6020.55,6020.05,6019.60],[2020.45,6020.05,6019.68,6020.28,6019.82],[2020.47,6019.55],
[2020.50,6020.50,6020.25,6019.88,6019.68],[2020.55,6020.60,6020.15,6019.87,6020.37,6019.50],[2020.60,6020.15,6020.62,6020.85,6020.35],
[2020.65,6020.55,6020.18,6020.78,6020.32],[2020.70,6021.00,6020.75,6020.38,6020.18],[2020.75,6021.15,6020.70,6020.42,6020.92],
[2020.80,6020.70,6021.17,6021.40,6020.90],[2020.85,6021.15,6020.78,6021.38,6020.92],[2020.90,6021.60,6021.35,6020.98,6020.78],
[2020.95,6021.65,6021.20,6020.92,6021.42,6022.00],[2021.00,6021.10,6021.57,6021.80,6021.30],[2021.05,6021.45,6021.08,6021.68,6021.22],
[2021.10,6021.85,6021.60,6021.23,6021.03],[2021.15,6021.85,6021.40,6021.12,6021.62],
[2021.20,6021.00,6019.60,6018.20,6016.26],[2021.21,6017.75],[2021.22,6020.85,6015.75],[2021.23,6016.55],[2021.26,6017.10],
[2021.28,6015.55],[2021.35,6021.05],[2021.45,6020.90],[2021.50,6021.20],[2021.52,6017.55],[2021.56,6018.14],[2021.60,6021.15],
[2021.70,6021.30],[2021.79,6014.90],[2021.80,6017.60],[2021.81,6018.13],[2021.88,6021.10,6021.40,6021.70,6018.27],
[2021.90,6020.80,6020.40,6019.90,6019.50,6018.90,6017.02,6015.00],[2021.92,6021.20,6021.50,6021.90,6022.10],[2021.95,6020.20,6019.60],
[2021.96,6021.00,6021.30,6021.60,6022.00],[2022.00,6021.20,6021.50,6021.80,6022.20],[2022.04,6021.10,6021.40,6021.70,6022.00],
[2022.08,6021.30,6021.60,6021.90],[2022.10,6020.50,6019.80],[2022.12,6021.20,6021.50,6021.80,6022.10],
[2022.15,6020.90,6020.30,6019.40,6018.80],[2022.16,6021.00,6021.40,6021.70],[2022.17,6017.40],[2022.19,6019.40],[2022.20,6020.70],
[2022.24,6017.30,6015.10],[2022.27,6019.30],[2022.28,6016.45],[2022.32,6016.85,6015.35,6014.86,6017.70],[2022.39,6018.40],
[2022.50,6021.64,6021.54],[2022.57,6019.30],[2022.69,6021.64,6018.00],[2022.72,6021.58,6021.19],[2022.76,6017.65],
[2022.82,6021.50,6020.90,6020.30],[2022.86,6021.80,6021.20,6020.60,6019.90],[2022.87,6017.60],[2022.90,6022.00,6021.40,6020.80,6020.10],
[2022.91,6018.10],[2022.93,6019.20],[2022.94,6021.70,6021.00,6020.40,6019.70],[2022.95,6016.60],
[2022.98,6022.10,6021.30,6020.50,6019.90,6015.85,6014.80],[2022.99,6022.61],[2023.00,6022.51,6018.25,6015.10],[2023.01,6019.00],
[2023.02,6021.80,6021.10,6020.20,6019.60],[2023.05,6015.80],[2023.06,6021.90,6021.20,6020.60,6019.80],[2023.07,6017.90],
[2023.10,6021.60,6020.90,6020.20,6019.70],[2023.12,6015.35],[2023.14,6021.40,6020.70,6020.00,6019.50,6018.80],[2023.15,6016.90,6014.55],
[2023.18,6021.00,6020.30,6019.80],[2023.20,6015.90],[2023.21,6018.50],[2023.22,6020.60,6019.90,6019.60],[2023.23,6017.75],
[2023.24,6016.30],[2023.25,6019.30],[2023.26,6020.20,6019.70],[2023.27,6016.00],[2023.36,6022.64],[2023.83,6018.75,6016.04],
[2023.87,6015.00]
];

// ---------- water elevation, dark blue series: [date, readings...] ----------
const blue1997to2004 = [
[1997.60,6014.95,6015.10,6015.30],[1997.65,6014.92,6015.25],[1997.70,6015.05,6015.40],[1997.80,6015.45,6015.70],[1997.90,6015.65,6015.85],
[1998.00,6015.80,6016.05],[1998.10,6015.95,6016.20],[1998.20,6016.10,6016.30],[1998.30,6016.20,6016.40],[1998.40,6016.35,6016.55],
[1998.50,6016.45,6016.60],[1998.60,6016.50,6016.70],[1998.70,6016.55,6016.85],[1998.80,6016.75,6017.05],[1998.90,6016.90,6017.20],
[1999.00,6017.05,6017.30],[1999.10,6017.10,6017.35],[1999.20,6017.20,6017.45],[1999.30,6017.25,6017.50],[1999.40,6017.30,6017.55],
[1999.50,6017.40,6017.60],[1999.60,6017.50,6017.70],[1999.70,6017.65,6017.90],[1999.75,6017.70,6017.95,6018.10],
[1999.80,6017.75,6017.95,6018.15],[1999.85,6017.80,6018.00,6018.20],[1999.90,6017.82,6018.05,6018.25],[2000.00,6017.85,6018.05],
[2000.10,6017.90,6018.10],[2000.20,6018.00,6018.20],[2000.30,6018.05,6018.25],[2000.40,6018.10,6018.30],[2000.50,6018.15,6018.35],
[2000.60,6018.25,6018.45],[2000.70,6018.35,6018.55],[2000.80,6018.40,6018.65],[2000.90,6018.50,6018.75],[2001.00,6018.55,6018.85],
[2001.10,6018.60,6018.90],[2001.20,6018.65,6018.95],[2001.30,6018.70,6019.05],[2001.40,6018.65,6018.95],[2001.50,6018.60,6018.90],
[2001.60,6018.65,6018.95],[2001.70,6018.20,6018.40],[2001.80,6017.95,6018.15],[2001.90,6017.85,6018.05],[2002.00,6017.90,6018.10],
[2002.10,6017.80,6018.00],[2002.20,6017.70,6017.95],[2002.30,6017.60,6017.85,6018.90],[2002.40,6017.90,6018.20],[2002.50,6018.20,6018.40],
[2002.60,6018.30,6018.50],[2002.70,6018.40,6018.60],[2002.80,6018.45,6018.70],[2002.90,6018.50,6018.80],[2003.00,6018.60,6018.95],
[2003.10,6018.80,6019.25],[2003.15,6018.95,6019.35],[2003.20,6018.85,6019.30],[2003.30,6018.50,6018.80],[2003.40,6018.20,6018.50],
[2003.50,6018.10,6018.35],[2003.60,6018.05,6018.30],[2003.70,6015.47,6018.10,6018.35],[2003.80,6018.00,6018.25],[2003.90,6017.60,6017.90],
[2003.92,6017.30,6017.50],[2003.95,6017.10,6017.25],[2003.98,6016.90,6017.00],[2004.00,6016.70,6016.80],[2004.03,6016.50,6016.60],
[2004.06,6016.25,6016.35],[2004.09,6016.00,6016.10],[2004.12,6015.80,6015.90],[2004.15,6015.60,6015.70],[2004.18,6015.40,6015.50],
[2004.21,6015.20,6015.30],[2004.24,6015.00,6015.10],[2004.27,6014.80,6014.90],[2004.30,6014.60,6014.70,6016.20]
];
const blueMid1997to2003 = [
[1997.75,6015.30,6015.55],[1997.85,6015.55,6015.75],[1997.95,6015.72,6015.98],[1998.05,6015.85,6016.12],[1998.15,6016.02,6016.25],
[1998.25,6016.12,6016.38],[1998.35,6016.30,6016.48],[1998.45,6016.38,6016.58],[1998.55,6016.48,6016.66],[1998.65,6016.52,6016.78],
[1998.75,6016.62,6016.95],[1998.85,6016.82,6017.12],[1998.95,6016.98,6017.25],[1999.05,6017.05,6017.33],[1999.15,6017.15,6017.40],
[1999.25,6017.22,6017.48],[1999.35,6017.28,6017.52],[1999.45,6017.35,6017.58],[1999.55,6017.45,6017.65],[1999.65,6017.58,6017.80],
[1999.95,6017.88,6018.08],[2000.05,6017.86,6018.12],[2000.15,6017.95,6018.18],[2000.25,6018.02,6018.22],[2000.35,6018.08,6018.28],
[2000.45,6018.12,6018.32],[2000.55,6018.20,6018.40],[2000.65,6018.30,6018.50],[2000.75,6018.38,6018.60],[2000.85,6018.45,6018.70],
[2000.95,6018.52,6018.80],[2001.05,6018.58,6018.88],[2001.15,6018.62,6018.92],[2001.25,6018.68,6019.00],[2001.35,6018.68,6019.00],
[2001.45,6018.62,6018.92],[2001.55,6018.62,6018.92],[2001.65,6018.45,6018.75],[2001.75,6018.05,6018.30],[2001.85,6017.90,6018.10],
[2001.95,6017.88,6018.08],[2002.05,6017.85,6018.05],[2002.15,6017.75,6017.98],[2002.25,6017.65,6017.90],[2002.35,6017.75,6018.05],
[2002.45,6018.05,6018.30],[2002.55,6018.25,6018.45],[2002.65,6018.35,6018.55],[2002.75,6018.42,6018.65],[2002.85,6018.48,6018.75],
[2002.95,6018.55,6018.88],[2003.05,6018.70,6019.10],[2003.25,6018.68,6019.05],[2003.35,6018.35,6018.65],[2003.45,6018.15,6018.42],
[2003.55,6018.08,6018.32],[2003.65,6018.08,6018.32],[2003.75,6018.02,6018.30],[2003.85,6017.85,6018.10]
];
const blue2004to2012 = [
[2004.82,6015.85,6015.03,6014.71],[2004.92,6014.98],[2005.00,6016.90,6017.20],[2005.10,6017.10,6017.40],[2005.20,6017.30,6017.60],
[2005.30,6017.45,6017.70,6017.75],[2005.35,6017.60,6017.70],[2005.60,6015.19],[2005.77,6015.36],[2005.82,6015.02],
[2006.00,6016.90,6017.10],[2006.10,6017.00,6017.30],[2006.20,6017.20,6017.50],[2006.30,6017.30,6017.60],[2006.40,6017.40,6017.70],
[2006.45,6017.45,6017.65],[2006.51,6015.45,6015.11],[2006.90,6016.80,6017.00],[2007.00,6016.95,6017.15],[2007.10,6017.05,6017.30],
[2007.20,6017.10,6017.35],[2007.25,6016.90,6017.00],[2007.30,6016.70,6016.80],[2007.35,6016.55,6016.65,6016.50],
[2007.40,6016.50,6016.60,6016.45],[2007.45,6016.50,6016.58,6016.45],[2007.50,6016.52,6016.62],[2007.55,6016.60,6016.75],
[2007.60,6016.85,6017.00],[2007.70,6017.00,6017.20],[2007.80,6017.05,6017.25],[2007.90,6017.10,6017.30],[2008.00,6017.20,6017.40],
[2008.10,6017.30,6017.50],[2008.20,6017.45,6017.65],[2008.29,6015.32,6015.22],[2008.31,6015.10,6015.00],[2008.33,6014.90,6015.05],
[2008.35,6014.81,6014.95],[2008.38,6014.71,6014.64],[2008.41,6014.55,6014.62],[2008.50,6016.90,6017.10],[2008.60,6016.85,6017.00],
[2008.70,6016.80,6017.00],[2008.80,6017.00,6017.20],[2008.90,6017.15,6017.35],[2009.00,6017.25,6017.45],[2009.10,6017.35,6017.55],
[2009.20,6017.40,6017.60],[2009.30,6017.30,6017.50],[2009.40,6016.80,6017.00],[2009.45,6016.40,6016.60],[2009.50,6016.00,6016.10],
[2009.55,6015.85,6015.95],[2009.60,6015.75,6015.85],[2009.65,6015.72,6015.80],[2009.70,6015.75,6015.90],[2009.75,6015.85,6016.00],
[2009.80,6016.10,6016.25],[2009.90,6016.50,6016.65],[2010.00,6016.85,6017.00],[2010.10,6017.00,6017.10],[2010.20,6017.10,6017.20],
[2010.30,6017.15,6017.30],[2010.35,6017.10,6017.20],[2010.40,6016.60,6016.75],[2010.45,6016.30,6016.40],[2010.50,6016.10,6016.20],
[2010.55,6015.95,6016.05],[2010.60,6015.85,6015.95],[2010.65,6015.75,6015.85],[2010.70,6015.70,6015.80],[2010.75,6015.80,6015.90],
[2010.80,6015.72,6015.85],[2010.85,6016.00,6016.20],[2010.90,6016.40,6016.60],[2011.00,6016.80,6016.95],[2011.10,6016.95,6017.10],
[2011.20,6017.05,6017.20],[2011.30,6017.05,6017.15],[2011.40,6016.70,6016.85],[2011.50,6016.30,6016.45],[2011.60,6016.25,6016.40],
[2011.70,6016.50,6016.65],[2011.80,6016.75,6016.90],[2011.90,6016.90,6017.00],[2012.00,6017.00,6017.10],[2012.10,6017.10,6017.20],
[2012.20,6017.15,6017.25],[2012.30,6017.15,6017.22]
];
const blue2012to2018 = [
[2012.37,6017.36],[2012.42,6017.26],[2012.47,6017.15],[2012.52,6017.05],[2012.57,6016.97],[2012.62,6016.90],[2012.67,6016.86],
[2012.72,6016.83],[2012.77,6016.86],[2012.82,6016.90],[2012.87,6016.97],[2012.92,6017.05],[2013.00,6017.15,6017.25],
[2013.10,6017.25,6017.35],[2013.20,6017.30,6017.45],[2013.30,6017.35,6017.45],[2013.40,6017.30,6017.40],[2013.50,6017.20,6017.30],
[2013.60,6017.05,6017.15],[2013.70,6017.15,6017.30],[2013.80,6017.45,6017.60],[2013.90,6017.65,6017.80],[2014.00,6017.80,6017.90],
[2014.10,6017.90,6017.98],[2014.20,6017.95,6018.02],[2014.30,6017.98,6018.03],[2014.36,6017.95],[2014.40,6017.90],[2014.45,6017.84],
[2014.50,6017.79],[2014.55,6017.75],[2014.60,6017.71],[2014.65,6017.68],[2014.70,6017.65],[2014.75,6017.63],[2014.80,6017.62],
[2014.85,6017.64],[2014.90,6017.68],[2014.95,6017.72],[2015.00,6017.80,6017.90],[2015.10,6017.95,6018.05],[2015.20,6018.05,6018.15],
[2015.30,6018.15,6018.25],[2015.40,6018.30,6018.40],[2015.45,6018.46],[2015.50,6018.38],[2015.55,6018.31],[2015.60,6018.24],
[2015.65,6018.18],[2015.70,6018.12],[2015.75,6018.07],[2015.80,6018.03],[2015.85,6018.01],[2015.90,6018.04],[2015.95,6018.08],
[2016.00,6018.20,6018.30],[2016.10,6018.40,6018.50],[2016.20,6018.55,6018.65],[2016.30,6018.62,6018.70],[2016.35,6018.66],
[2016.40,6018.64],[2016.45,6018.61],[2016.50,6018.58],[2016.55,6018.57],[2016.60,6018.56],[2016.65,6018.55],[2016.70,6018.55],
[2016.75,6018.54],[2016.80,6018.55],[2016.85,6018.56],[2016.90,6018.58],[2016.95,6018.62],[2017.00,6018.70],[2017.05,6018.74],
[2017.10,6018.78],[2017.15,6018.82],[2017.20,6018.87],[2017.25,6018.92],[2017.30,6018.97],[2017.35,6019.02],[2017.40,6019.07],
[2017.45,6019.12],[2017.50,6019.16],[2017.55,6019.20],[2017.60,6019.24],[2017.65,6019.28],[2017.70,6019.32],[2017.75,6019.35],
[2017.80,6019.37],[2017.85,6019.39],[2017.90,6019.42],[2017.95,6019.46],[2018.00,6019.50],[2018.05,6019.55],[2018.10,6019.60],
[2018.15,6019.66],[2018.20,6019.72],[2018.25,6019.78],[2018.30,6019.84],[2018.35,6019.89],[2018.40,6019.92],[2018.43,6019.90]
];
const blueAfter2018 = [
[2018.52,6014.58],[2018.56,6017.00,6016.85,6016.70,6015.42,6014.97],[2018.58,6017.05,6016.90,6016.75,6016.65],
[2018.60,6016.95,6016.80,6016.70,6017.20],[2018.62,6017.00,6016.85,6016.75],[2018.63,6015.88],[2018.64,6016.90,6016.80,6016.65],
[2018.66,6016.95,6016.75],[2018.74,6016.46],[2018.78,6015.62],[2018.80,6018.40,6018.30,6016.30],
[2018.82,6018.15,6018.05,6014.90,6014.71,6015.40],[2018.84,6017.95,6017.85],[2018.85,6016.10],[2018.86,6017.80],[2018.96,6019.96],
[2019.00,6019.75,6019.30],[2019.04,6019.90,6017.30,6016.52,6016.33],[2019.07,6017.05,6016.85],[2019.10,6019.40],[2019.11,6018.14],
[2019.15,6017.82],[2019.19,6016.26],[2019.22,6016.13,6015.81],[2019.26,6015.55],[2019.30,6015.16,6015.90,6019.80],[2019.33,6014.90],
[2019.37,6014.65,6016.00],[2019.40,6015.35],[2019.44,6015.68,6014.71],[2019.48,6015.10],[2019.52,6015.94],[2019.55,6015.25,6014.58],
[2019.59,6015.49,6014.77],[2019.60,6019.90],[2019.62,6016.05],[2019.66,6015.16,6016.46],[2019.70,6015.70],[2019.74,6014.90],
[2019.77,6016.15],[2019.80,6020.60],[2019.81,6015.81,6017.23],[2019.89,6015.94,6016.65,6017.75],[2019.92,6016.40],
[2019.96,6016.27,6021.00],[2019.99,6017.23,6018.24,6016.97,6016.65,6017.75],[2020.00,6020.70],[2020.03,6016.84],[2020.07,6018.24],
[2020.10,6021.20],[2020.11,6016.81],[2020.18,6015.99,6015.29],[2020.20,6020.10],[2020.22,6015.68,6017.27],[2020.25,6014.90],
[2020.33,6014.84,6020.40],[2020.36,6015.75,6017.20],[2020.40,6021.30,6021.00,6020.70],[2020.66,6015.49],[2020.73,6014.65],
[2020.77,6018.02],[2020.80,6015.49,6015.16],[2020.82,6015.81,6014.84],[2020.84,6018.20],[2020.86,6017.07],[2020.87,6016.27],
[2020.88,6016.78],[2020.89,6016.46],[2020.93,6021.00],[2020.95,6021.40],[2020.98,6019.70,6018.80],
[2021.00,6019.37,6018.70,6021.60,6020.60],[2021.01,6019.05,6018.53],[2021.05,6021.90],[2021.25,6020.85],[2021.28,6021.00],
[2021.29,6021.28,6014.58],[2021.36,6021.54],[2021.37,6018.66],[2021.43,6018.46],[2021.47,6021.38],[2021.51,6018.14],[2021.58,6021.35],
[2021.66,6021.48,6017.78],[2021.73,6021.12,6017.56],[2021.80,6021.67],[2021.88,6017.36,6019.70],[2021.92,6020.28],
[2021.94,6021.30,6021.80],[2021.95,6016.17,6014.93],[2021.96,6016.94,6014.71],[2021.98,6015.68,6015.42],[2022.00,6020.60,6019.05],
[2022.02,6021.60,6022.00],[2022.05,6022.22],[2022.06,6021.20],[2022.09,6022.45,6020.41],[2022.10,6021.90],[2022.12,6020.08],
[2022.14,6015.97],[2022.17,6015.78,6019.63],[2022.54,6016.04],[2022.69,6016.62],[2022.82,6015.94],[2022.91,6022.35,6014.58],
[2022.93,6022.56],[2022.95,6020.54,6018.92,6017.98],[2022.98,6021.25,6014.97],[2023.00,6022.97,6022.92,6022.56],
[2023.05,6021.00,6020.20],[2023.06,6020.67,6015.23],[2023.09,6022.03,6017.40],[2023.12,6022.69,6022.62],[2023.13,6022.13,6019.21],
[2023.14,6022.88,6022.66]
];
const blueExtra2019to2020 = [
[2019.12,6015.00],[2019.20,6014.80,6015.35],[2019.28,6014.62,6015.05],[2019.35,6015.40,6014.75],[2019.42,6014.95,6015.55],
[2019.50,6014.65,6015.30],[2019.57,6015.05,6014.68],[2019.64,6014.85,6015.60],[2019.68,6014.60,6015.35],[2019.72,6015.10,6014.70],
[2019.78,6014.95,6015.45],[2019.84,6014.62,6015.20],[2020.05,6016.10,6015.40],[2020.14,6014.75],[2020.15,6017.90],
[2020.28,6015.20,6016.45],[2020.30,6017.30]
];

// ---------- daily dewatering volume (1000 gal): [date, volume] ----------
const pump2008 = [[2008.44,0.85],[2008.45,0.30],[2008.46,0.80],[2008.47,0.20],[2008.48,0.75],[2008.49,0.35],[2008.50,0.70],[2008.51,0.15],[2008.52,0.65],[2008.53,0.25],[2008.54,0.80],[2008.55,0.45],[2008.56,1.10],[2008.57,0.60],[2008.58,1.50],[2008.59,0.90],[2008.60,1.90],[2008.61,1.00],[2008.62,1.85],[2008.63,0.70],[2008.64,1.95],[2008.65,1.10],[2008.66,1.80],[2008.67,0.55],[2008.68,1.90],[2008.69,1.20],[2008.70,1.85],[2008.71,0.90],[2008.72,1.75],[2008.73,0.30],[2008.74,1.90],[2008.75,1.00],[2008.76,1.80],[2008.77,0.65],[2008.78,1.85],[2008.79,1.20],[2008.80,1.70],[2008.81,0.40],[2008.82,1.60],[2008.83,0.80],[2008.84,0.00]];
const pump2009 = [[2009.32,0.00],[2009.33,1.50],[2009.34,0.35],[2009.35,1.55],[2009.36,0.60],[2009.37,1.60],[2009.38,1.05],[2009.39,2.10],[2009.40,1.40],[2009.41,2.60],[2009.42,1.55],[2009.43,3.30],[2009.44,1.90],[2009.45,4.55],[2009.46,1.70],[2009.47,4.65],[2009.48,2.20],[2009.49,4.82],[2009.50,1.00],[2009.51,4.70],[2009.52,2.40],[2009.53,4.55],[2009.54,1.60],[2009.55,3.90],[2009.56,2.10],[2009.57,3.40],[2009.58,1.30],[2009.59,3.20],[2009.60,2.20],[2009.61,3.00],[2009.62,1.45],[2009.63,2.85],[2009.64,0.95],[2009.65,2.75],[2009.66,1.70],[2009.67,2.60],[2009.68,1.85],[2009.69,2.55],[2009.70,1.15],[2009.71,2.40],[2009.72,1.60],[2009.73,2.25],[2009.74,1.90],[2009.75,2.10],[2009.76,1.35],[2009.77,2.00],[2009.78,1.85],[2009.79,0.00]];
const pump2010 = [[2010.40,0.00],[2010.41,1.80],[2010.42,3.06],[2010.43,1.40],[2010.44,2.80],[2010.45,1.90],[2010.46,2.70],[2010.47,1.60],[2010.48,2.55],[2010.49,1.20],[2010.50,2.40],[2010.51,1.70],[2010.52,2.20],[2010.53,1.00],[2010.54,2.10],[2010.55,1.45],[2010.56,2.00],[2010.57,0.90],[2010.58,1.95],[2010.59,1.30],[2010.60,1.90],[2010.61,0.75],[2010.62,1.85],[2010.63,1.10],[2010.64,1.80],[2010.65,0.85],[2010.66,1.75],[2010.67,1.20],[2010.68,1.70],[2010.69,0.80],[2010.70,1.65],[2010.71,1.00],[2010.72,1.60],[2010.73,0.65],[2010.74,1.55],[2010.75,0.90],[2010.76,1.52],[2010.77,0.70],[2010.78,1.50],[2010.79,0.00]];
const pump2011 = [[2011.50,0.00],[2011.51,1.50],[2011.52,2.12],[2011.53,0.80],[2011.54,2.05],[2011.55,1.60],[2011.56,1.75],[2011.57,0.10],[2011.58,0.00],[2011.62,0.00],[2011.63,0.90],[2011.64,0.15],[2011.65,1.05],[2011.66,0.30],[2011.67,1.10],[2011.68,0.10],[2011.69,1.15],[2011.70,0.50],[2011.71,1.20],[2011.72,0.20],[2011.73,1.18],[2011.74,0.60],[2011.75,1.22],[2011.76,0.35],[2011.77,1.15],[2011.78,0.00]];
const pump2012 = [[2012.40,0.00],[2012.41,1.40],[2012.42,1.82],[2012.43,0.90],[2012.44,1.87],[2012.45,1.20],[2012.46,1.80],[2012.47,0.95],[2012.48,1.75],[2012.49,1.30],[2012.50,1.70],[2012.51,0.80],[2012.52,1.65],[2012.53,1.10],[2012.54,1.62],[2012.55,0.70],[2012.56,1.58],[2012.57,1.00],[2012.58,1.55],[2012.59,0.65],[2012.60,1.50],[2012.61,0.95],[2012.62,1.45],[2012.63,0.55],[2012.64,1.40],[2012.65,0.80],[2012.66,1.35],[2012.67,0.45],[2012.68,1.30],[2012.69,0.75],[2012.70,1.22],[2012.71,0.35],[2012.72,1.16],[2012.73,0.60],[2012.74,1.05],[2012.75,0.15],[2012.76,0.40],[2012.77,0.10],[2012.78,0.25],[2012.79,0.00]];
const pump2013 = [[2013.40,0.00],[2013.41,1.20],[2013.42,1.43],[2013.43,0.30],[2013.44,1.40],[2013.45,0.00],[2013.46,0.20],[2013.47,0.10],[2013.48,1.35],[2013.49,0.60],[2013.50,1.45],[2013.51,0.90],[2013.52,1.47],[2013.53,0.40],[2013.54,1.50],[2013.55,0.95],[2013.56,1.55],[2013.57,0.70],[2013.58,1.60],[2013.59,1.00],[2013.60,1.55],[2013.61,0.55],[2013.62,1.45],[2013.63,0.85],[2013.64,1.38],[2013.65,0.50],[2013.66,1.32],[2013.67,0.80],[2013.68,1.28],[2013.69,0.45],[2013.70,1.24],[2013.71,0.75],[2013.72,1.20],[2013.73,0.35],[2013.74,1.15],[2013.75,0.00]];
const pump2014 = [[2014.41,0.00],[2014.42,1.40],[2014.43,0.80],[2014.44,1.43],[2014.45,1.00],[2014.46,1.45],[2014.47,0.60],[2014.48,1.46],[2014.49,1.10],[2014.50,1.47],[2014.51,0.85],[2014.52,1.42],[2014.53,1.05],[2014.54,1.38],[2014.55,0.70],[2014.56,1.35],[2014.57,0.95],[2014.58,1.33],[2014.59,0.55],[2014.60,1.30],[2014.61,0.90],[2014.62,1.28],[2014.63,0.65],[2014.64,1.25],[2014.65,0.85],[2014.66,1.22],[2014.67,0.45],[2014.68,1.18],[2014.69,0.80],[2014.70,1.15],[2014.71,0.35],[2014.72,1.12],[2014.73,0.70],[2014.74,1.08],[2014.75,0.25],[2014.76,1.05],[2014.77,0.55],[2014.78,1.03],[2014.79,0.10],[2014.80,0.95],[2014.81,0.00]];
const pump2015 = [[2015.42,0.00],[2015.43,1.35],[2015.44,0.70],[2015.45,1.38],[2015.46,0.95],[2015.47,1.40],[2015.48,0.60],[2015.49,1.42],[2015.50,1.05],[2015.51,1.43],[2015.52,0.75],[2015.53,1.42],[2015.54,1.00],[2015.55,1.38],[2015.56,0.65],[2015.57,1.35],[2015.58,0.90],[2015.59,1.32],[2015.60,0.55],[2015.61,1.28],[2015.62,0.85],[2015.63,1.25],[2015.64,0.60],[2015.65,1.22],[2015.66,0.95],[2015.67,1.18],[2015.68,0.50],[2015.69,1.15],[2015.70,0.80],[2015.71,1.12],[2015.72,0.45],[2015.73,1.08],[2015.74,0.70],[2015.75,1.05],[2015.76,0.30],[2015.77,1.02],[2015.78,0.55],[2015.79,0.99],[2015.80,0.20],[2015.81,0.95],[2015.82,0.40],[2015.83,0.90],[2015.84,0.00]];
const pump2016 = [[2016.36,0.00],[2016.37,1.25],[2016.38,0.70],[2016.39,1.32],[2016.40,0.95],[2016.41,1.35],[2016.42,0.60],[2016.43,1.39],[2016.44,1.00],[2016.45,1.36],[2016.46,0.75],[2016.47,1.34],[2016.48,1.05],[2016.49,1.32],[2016.50,0.55],[2016.51,1.30],[2016.52,0.90],[2016.53,1.28],[2016.54,0.65],[2016.55,1.26],[2016.56,0.95],[2016.57,1.24],[2016.58,0.50],[2016.59,1.22],[2016.60,0.85],[2016.61,1.20],[2016.62,0.60],[2016.63,1.19],[2016.64,0.90],[2016.65,1.16],[2016.66,0.45],[2016.67,1.13],[2016.68,0.80],[2016.69,1.10],[2016.70,0.55],[2016.71,1.06],[2016.72,0.30],[2016.73,1.02],[2016.74,0.70],[2016.75,0.98],[2016.76,0.40],[2016.77,0.95],[2016.78,0.65],[2016.79,0.92],[2016.80,0.25],[2016.81,0.88],[2016.82,0.50],[2016.83,0.84],[2016.84,0.20],[2016.85,0.79],[2016.86,0.45],[2016.87,0.75],[2016.88,0.00]];
const pump2017 = [[2017.47,0.00],[2017.48,1.05],[2017.49,0.70],[2017.50,1.10],[2017.51,0.85],[2017.52,1.13],[2017.53,0.60],[2017.54,1.14],[2017.55,0.90],[2017.56,1.12],[2017.57,0.75],[2017.58,1.14],[2017.59,0.55],[2017.60,1.10],[2017.61,0.85],[2017.62,1.08],[2017.63,0.65],[2017.64,1.05],[2017.65,0.80],[2017.66,1.04],[2017.67,0.50],[2017.68,1.02],[2017.69,0.75],[2017.70,1.01],[2017.71,0.60],[2017.72,1.00],[2017.73,0.85],[2017.74,0.98],[2017.75,0.40],[2017.76,0.95],[2017.77,0.00]];
const pump2018to2020 = [[2018.35,0.00],[2018.36,1.05],[2018.37,0.30],[2018.38,1.20],[2018.39,0.10],[2018.40,1.34],[2018.41,0.50],[2018.42,1.30],[2018.43,0.00],[2018.44,1.28],[2018.45,0.40],[2018.46,1.25],[2018.47,0.20],[2018.48,1.22],[2018.49,0.60],[2018.50,1.20],[2018.51,0.00],[2018.52,1.15],[2018.53,0.35],[2018.54,1.10],[2018.55,0.10],[2018.56,0.97],[2018.57,0.00],[2018.58,0.85],[2018.59,0.30],[2018.60,0.90],[2018.61,0.00],[2018.62,0.75],[2018.63,0.05],[2018.64,0.80],[2018.65,0.00],[2018.66,0.70],[2018.67,0.20],[2018.68,0.65],[2018.69,0.00],[2018.70,0.45],[2018.71,0.10],[2018.72,0.60],[2018.73,0.00],[2018.74,0.30],[2018.75,0.00],[2018.78,0.00],[2018.79,1.28],[2018.80,0.10],[2018.81,0.90],[2018.82,0.00],[2018.84,0.08],[2018.86,0.05],[2018.90,0.08],[2018.95,0.00],[2019.02,0.00],[2019.03,0.70],[2019.04,0.10],[2019.05,0.97],[2019.06,0.30],[2019.08,1.10],[2019.10,0.00],[2019.12,1.18],[2019.14,0.55],[2019.16,1.20],[2019.18,0.40],[2019.20,1.26],[2019.22,0.65],[2019.24,1.25],[2019.26,0.20],[2019.28,1.24],[2019.30,0.70],[2019.32,1.20],[2019.34,0.45],[2019.36,1.18],[2019.38,0.00],[2019.40,1.16],[2019.42,0.60],[2019.44,1.15],[2019.46,0.35],[2019.48,1.12],[2019.50,0.70],[2019.52,1.10],[2019.54,0.15],[2019.56,1.08],[2019.58,0.55],[2019.60,1.05],[2019.62,0.00],[2019.64,1.00],[2019.66,0.50],[2019.68,0.97],[2019.70,0.25],[2019.72,0.95],[2019.74,0.00],[2019.76,0.88],[2019.78,0.40],[2019.80,0.80],[2019.82,0.00],[2019.84,0.75],[2019.86,0.30],[2019.88,0.70],[2019.90,0.00],[2019.92,0.60],[2019.94,0.20],[2019.96,0.55],[2019.98,0.00],[2020.00,0.50],[2020.02,0.00],[2020.04,0.45],[2020.06,0.10],[2020.08,0.40],[2020.10,0.00],[2020.12,0.35],[2020.14,0.00],[2020.16,0.82],[2020.18,0.30],[2020.20,0.85],[2020.22,0.05],[2020.24,0.90],[2020.26,0.45],[2020.28,0.88],[2020.30,0.00],[2020.32,0.86],[2020.34,0.50],[2020.36,0.84],[2020.38,0.20],[2020.40,0.84],[2020.42,0.55],[2020.44,0.82],[2020.46,0.00],[2020.48,0.80],[2020.50,0.45],[2020.52,0.80],[2020.54,0.15],[2020.56,0.78],[2020.58,0.50],[2020.60,0.76],[2020.62,0.00],[2020.64,0.75],[2020.66,0.35],[2020.68,0.74],[2020.70,0.00],[2020.72,0.72],[2020.74,0.40],[2020.76,0.75],[2020.78,0.10],[2020.80,0.76],[2020.82,0.00],[2020.84,0.78],[2020.86,0.30],[2020.88,0.80],[2020.90,0.00],[2020.92,0.82],[2020.94,0.45],[2020.96,0.84],[2020.98,0.00]];
const pump2021to2023 = [[2021.00,0.86],[2021.02,0.20],[2021.04,0.88],[2021.06,0.00],[2021.08,0.85],[2021.10,0.40],[2021.12,0.88],[2021.14,0.00],[2021.16,1.00],[2021.18,1.22],[2021.20,0.30],[2021.22,1.20],[2021.24,1.05],[2021.26,1.18],[2021.28,0.00],[2021.30,1.16],[2021.32,1.10],[2021.34,0.10],[2021.36,1.14],[2021.38,1.10],[2021.40,1.42],[2021.42,0.05],[2021.44,1.12],[2021.46,1.08],[2021.48,0.20],[2021.50,1.10],[2021.52,1.06],[2021.54,0.00],[2021.56,1.09],[2021.58,1.05],[2021.60,0.15],[2021.62,1.08],[2021.64,1.05],[2021.66,0.00],[2021.68,1.07],[2021.70,1.03],[2021.72,0.30],[2021.74,1.06],[2021.76,1.02],[2021.78,0.00],[2021.80,1.05],[2021.82,1.00],[2021.84,0.40],[2021.86,1.04],[2021.88,0.70],[2021.90,0.00],[2021.92,0.50],[2021.94,0.05],[2021.96,0.45],[2021.98,0.00],[2022.00,0.40],[2022.02,0.10],[2022.04,0.35],[2022.06,0.00],[2022.08,0.30],[2022.10,0.00],[2022.12,0.25],[2022.14,0.00],[2022.16,1.10],[2022.18,0.60],[2022.20,1.12],[2022.22,0.85],[2022.24,1.08],[2022.26,0.40],[2022.28,1.06],[2022.30,0.95],[2022.32,1.05],[2022.34,0.55],[2022.36,1.03],[2022.38,0.90],[2022.40,1.02],[2022.42,0.30],[2022.44,1.00],[2022.46,0.92],[2022.48,0.99],[2022.50,0.60],[2022.52,0.98],[2022.54,0.90],[2022.56,0.97],[2022.58,0.35],[2022.60,0.95],[2022.62,0.88],[2022.64,0.94],[2022.66,0.50],[2022.68,0.93],[2022.70,0.85],[2022.72,0.92],[2022.74,0.20],[2022.76,0.91],[2022.78,0.86],[2022.80,0.90],[2022.82,0.45],[2022.84,0.89],[2022.86,0.10],[2022.88,0.88],[2022.90,0.55],[2022.92,0.87],[2022.94,0.00],[2022.96,0.86],[2022.98,0.30],[2023.00,0.86],[2023.02,0.00],[2023.04,0.87],[2023.06,0.60],[2023.08,0.88],[2023.10,0.82],[2023.12,0.88],[2023.14,0.65],[2023.16,0.87],[2023.18,0.84],[2023.20,0.86],[2023.22,0.60],[2023.24,0.85],[2023.26,0.82],[2023.28,0.85],[2023.30,0.70],[2023.32,0.84],[2023.34,0.80],[2023.36,0.84],[2023.38,0.68],[2023.40,0.83],[2023.42,0.79],[2023.44,0.82],[2023.46,0.72],[2023.48,0.82],[2023.50,0.78],[2023.52,0.81],[2023.54,0.70],[2023.56,0.80],[2023.58,0.77],[2023.60,0.80],[2023.62,0.74],[2023.64,0.79],[2023.66,0.76],[2023.68,0.78],[2023.70,0.73],[2023.72,0.78],[2023.74,0.75],[2023.76,0.77],[2023.78,0.72],[2023.80,0.76],[2023.82,0.27]];

// ---------- build datasets ----------
function samplesToPoints(tables) {
  const pts = [];
  tables.forEach(rows => rows.forEach(r => { for (let i = 1; i < r.length; i++) pts.push({x: r[0], y: r[i]}); }));
  return pts;
}
const magentaPoints = samplesToPoints([magenta1997to2003, magentaMid1997to2003, magenta2004to2008, magentaMid2004to2008,
  magenta2008to2013, magentaMid2008to2013, magenta2013to2018, magentaMid2013to2018, magentaAfter2018]);
const bluePoints = samplesToPoints([blue1997to2004, blueMid1997to2003, blue2004to2012, blue2012to2018, blueAfter2018, blueExtra2019to2020]);
const pumpPoints = [].concat(pump2008, pump2009, pump2010, pump2011, pump2012, pump2013, pump2014, pump2015, pump2016, pump2017, pump2018to2020, pump2021to2023).map(p => ({x: p[0], y: p[1]}));

// ---------- styling ----------
const FONT = '"Liberation Sans", Arial, Helvetica, sans-serif';
Chart.defaults.font.family = FONT;
const GRID_MAJOR = '#EBEBEB', GRID_MINOR = '#F3F3F3';
const isOddYear = v => Math.round(v) === v && Math.abs(v % 2) === 1;
const isInt = v => Math.abs(v - Math.round(v)) < 1e-9;

function zeroPad(s) { s.paddingTop = 0; s.paddingBottom = 0; s.paddingLeft = 0; s.paddingRight = 0; }

function drawPanelBorder(chart) {
  const {ctx, chartArea: a} = chart;
  ctx.save();
  ctx.strokeStyle = '#333333';
  ctx.lineWidth = 1;
  ctx.strokeRect(a.left + 0.5, a.top + 0.5, a.right - a.left - 1, a.bottom - a.top - 1);
  ctx.restore();
}
function drawPhaseLines(chart) {
  const {ctx, chartArea: a, scales: {x}} = chart;
  ctx.save();
  ctx.strokeStyle = '#000';
  ctx.lineWidth = 1.5;
  ctx.setLineDash([7, 4]);
  phaseDates.forEach(d => {
    const px = Math.round(x.getPixelForValue(d)) + 0.5;
    ctx.beginPath(); ctx.moveTo(px, a.top); ctx.lineTo(px, a.bottom); ctx.stroke();
  });
  ctx.restore();
}

const topDecor = {
  id: 'topDecor',
  afterDatasetsDraw(chart) {
    const {ctx, chartArea: a, scales: {x, y}} = chart;
    ctx.save();
    ctx.beginPath(); ctx.rect(a.left, a.top, a.right - a.left, a.bottom - a.top); ctx.clip();
    const bx0 = x.getPixelForValue(highlightBoxX[0]), bx1 = x.getPixelForValue(highlightBoxX[1]);
    const by0 = y.getPixelForValue(highlightBoxY[1]), by1 = y.getPixelForValue(highlightBoxY[0]);
    ctx.fillStyle = 'rgba(128,128,128,0.38)';
    ctx.fillRect(bx0, by0, bx1 - bx0, by1 - by0);
    ctx.strokeStyle = '#000'; ctx.lineWidth = 1.5;
    ctx.strokeRect(bx0, by0, bx1 - bx0, by1 - by0);
    ctx.lineWidth = 1.8;
    levelLines.forEach(v => {
      const py = y.getPixelForValue(v);
      ctx.beginPath(); ctx.moveTo(a.left, py); ctx.lineTo(a.right, py); ctx.stroke();
    });
    ctx.restore();
    drawPhaseLines(chart);
    ctx.save();
    ctx.fillStyle = '#000';
    ctx.font = '18px ' + FONT;
    ctx.textAlign = 'left'; ctx.textBaseline = 'middle';
    levelNotes.forEach(n => ctx.fillText(n.text, x.getPixelForValue(n.x), y.getPixelForValue(n.y)));
    ctx.restore();
  },
  afterDraw(chart) { drawPanelBorder(chart); }
};

const bottomDecor = {
  id: 'bottomDecor',
  afterDatasetsDraw(chart) {
    const {ctx, scales: {x, y}} = chart;
    drawPhaseLines(chart);
    ctx.save();
    ctx.fillStyle = '#000';
    ctx.font = '18px ' + FONT;
    ctx.textAlign = 'left'; ctx.textBaseline = 'middle';
    phaseDates.forEach((d, i) => ctx.fillText(phaseLabels[i], Math.round(x.getPixelForValue(d)) + 9, y.getPixelForValue(phaseLabelLevel)));
    ctx.font = '17.5px ' + FONT;
    ctx.textAlign = 'center';
    ctx.fillText(noDataNote.text, x.getPixelForValue(noDataNote.x), y.getPixelForValue(noDataNote.y));
    ctx.restore();
  },
  afterDraw(chart) { drawPanelBorder(chart); }
};

const gridFor = (majorTest, withTicks) => ({
  color: c => (c.tick && majorTest(c.tick.value)) ? GRID_MAJOR : GRID_MINOR,
  lineWidth: c => (c.tick && majorTest(c.tick.value)) ? 1.4 : 0.9,
  drawTicks: withTicks,
  tickLength: 5,
  tickWidth: 1.1,
  tickColor: c => (c.tick && majorTest(c.tick.value)) ? '#333333' : 'rgba(0,0,0,0)'
});
const tickFont = {family: FONT, size: 19};
const titleFont = {family: FONT, size: 22, weight: 'bold', lineHeight: 1};

// ---------- top panel ----------
new Chart(document.getElementById('topChart'), {
  type: 'scatter',
  data: {datasets: [
    {label: 'Dark', data: bluePoints, pointRadius: 1.8, pointBackgroundColor: '#0A3D91', pointBorderWidth: 0, pointHoverRadius: 0, clip: 0},
    {label: 'Magenta', data: magentaPoints, pointRadius: 1.85, pointBackgroundColor: '#FF00FF', pointBorderWidth: 0, pointHoverRadius: 0, clip: 0}
  ]},
  options: {
    responsive: false, animation: false, events: [],
    layout: {padding: {top: 11, right: 1, left: 0, bottom: 0}},
    plugins: {legend: {display: false}, tooltip: {enabled: false}},
    scales: {
      x: {type: 'linear', min: dateRange[0], max: dateRange[1],
        afterBuildTicks: s => { s.ticks = yearTicks.map(v => ({value: v})); },
        afterFit: s => { s.height = 3; zeroPad(s); },
        ticks: {display: false},
        grid: gridFor(isOddYear, false),
        border: {display: false}},
      y: {type: 'linear', min: elevRange[0], max: elevRange[1],
        afterBuildTicks: s => { s.ticks = elevTicks.map(v => ({value: v})); },
        afterFit: s => { s.width = 94; zeroPad(s); },
        ticks: {callback: v => isInt(v) ? String(v) : '', color: '#4D4D4D', font: tickFont, padding: 4, autoSkip: false},
        grid: gridFor(isInt, true),
        border: {display: false},
        title: {display: true, text: 'Water Elevation (ft NAVD 88)', color: '#000', font: titleFont, padding: {top: 11, bottom: 0}}}
    }
  },
  plugins: [topDecor]
});

// ---------- bottom panel ----------
new Chart(document.getElementById('bottomChart'), {
  type: 'scatter',
  data: {datasets: [
    {label: 'Volume', data: pumpPoints, showLine: true, pointRadius: 0, pointHoverRadius: 0, borderColor: '#474747', borderWidth: 1.6, tension: 0, clip: 0}
  ]},
  options: {
    responsive: false, animation: false, events: [],
    layout: {padding: {top: 16, right: 1, left: 0, bottom: 0}},
    plugins: {legend: {display: false}, tooltip: {enabled: false}},
    scales: {
      x: {type: 'linear', min: dateRange[0], max: dateRange[1],
        afterBuildTicks: s => { s.ticks = yearTicks.map(v => ({value: v})); },
        afterFit: s => { s.height = 84; zeroPad(s); },
        ticks: {callback: v => isOddYear(v) ? String(v) : '', color: '#4D4D4D', font: tickFont, autoSkip: false, minRotation: 45, maxRotation: 45, padding: 2, labelOffset: 6},
        grid: gridFor(isOddYear, true),
        border: {display: false},
        title: {display: true, text: 'Date', color: '#000', font: titleFont, padding: {top: 0, bottom: 0}}},
      y: {type: 'linear', min: volumeRange[0], max: volumeRange[1],
        afterBuildTicks: s => { s.ticks = volumeTicks.map(v => ({value: v})); },
        afterFit: s => { s.width = 94; zeroPad(s); },
        ticks: {callback: v => isInt(v) ? String(v) : '', color: '#4D4D4D', font: tickFont, padding: 4, autoSkip: false},
        grid: gridFor(isInt, true),
        border: {display: false},
        title: {display: true, text: 'Daily Dewatering Volume (1000 gal)', color: '#000', font: titleFont, padding: {top: 11, bottom: 0}}}
    }
  },
  plugins: [bottomDecor]
});
</script>
</body></html>
